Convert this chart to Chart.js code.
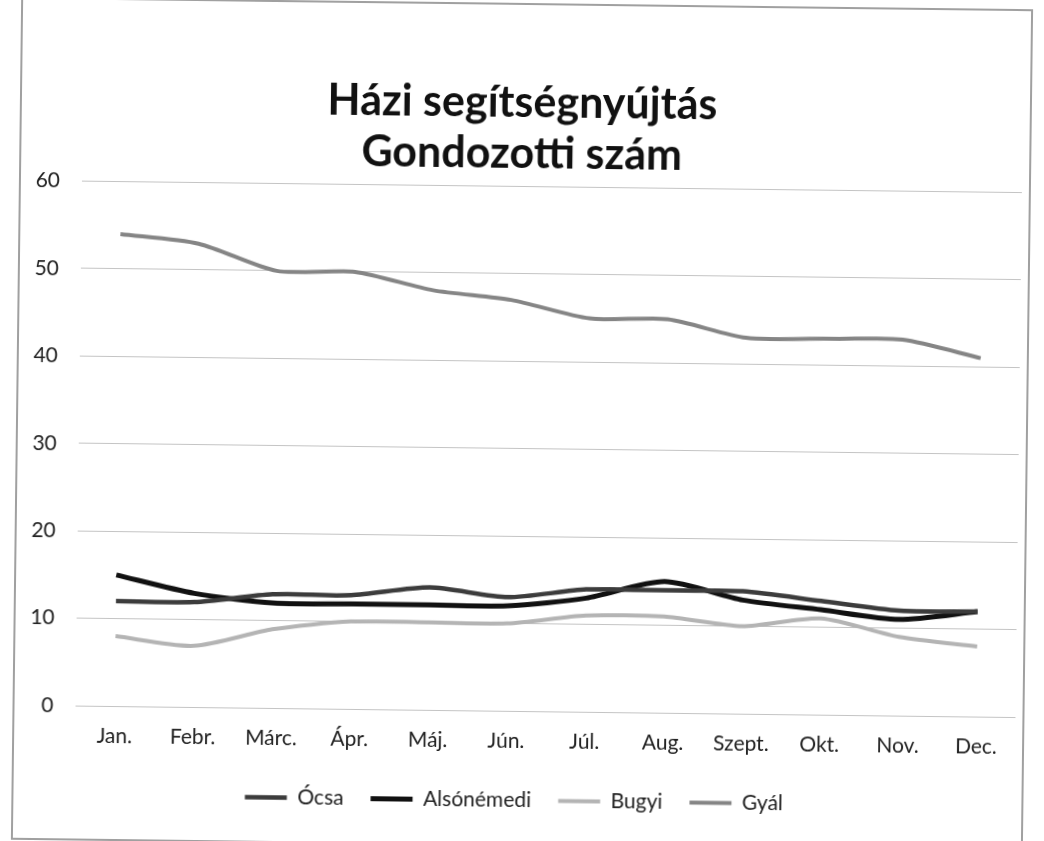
<!DOCTYPE html>
<html lang="hu">
<head>
<meta charset="utf-8">
<title>Házi segítségnyújtás – Gondozotti szám</title>
<script src="https://cdn.jsdelivr.net/npm/chart.js@4.4.1/dist/chart.umd.min.js"></script>
<style>
  html, body { margin: 0; padding: 0; background: #fff; }
  /* the scanned original is tilted a little, so the whole frame is too */
  #frame {
    position: absolute; left: 16px; top: 3px;
    width: 1012px; height: 843px;
    border: 2px solid #a0a0a0; box-sizing: border-box;
    transform: rotate(0.7deg);
  }
  canvas { display: block; }
</style>
</head>
<body>
<div id="frame"><canvas id="chart" width="1008" height="839"></canvas></div>
<script>
// ===== Data =====
const months = ["Jan.", "Febr.", "Márc.", "Ápr.", "Máj.", "Jún.", "Júl.", "Aug.", "Szept.", "Okt.", "Nov.", "Dec."];
const ocsa = [12, 12, 13, 13, 14, 13, 14, 14, 14, 13, 12, 12];
const alsonemedi = [15, 13, 12, 12, 12, 12, 13, 15, 13, 12, 11, 12];
const bugyi = [8, 7, 9, 10, 10, 10, 11, 11, 10, 11, 9, 8];
const gyal = [54, 53, 50, 50, 48, 47, 45, 45, 43, 43, 43, 41];
const yTicks = [0, 10, 20, 30, 40, 50, 60];

const FONT = "Lato, 'Open Sans', sans-serif";

const line = (label, data, color, width) => ({
  label,
  data,
  borderColor: color,
  backgroundColor: color,
  borderWidth: width,
  pointRadius: 0,
  pointHoverRadius: 0,
  tension: 0.25,
  fill: false,
});

new Chart(document.getElementById("chart"), {
  type: "line",
  data: {
    labels: months,
    datasets: [
      line("Ócsa", ocsa, "#3c3c3c", 4.5),
      line("Alsónémedi", alsonemedi, "#111111", 5),
      line("Bugyi", bugyi, "#b4b4b4", 4),
      line("Gyál", gyal, "#858585", 4),
    ],
  },
  options: {
    responsive: false,
    animation: false,
    layout: { padding: { left: 0, right: 7, top: 0, bottom: 23 } },
    plugins: {
      title: {
        display: true,
        text: ["Házi segítségnyújtás", "Gondozotti szám"],
        color: "#111",
        font: { family: FONT, size: 43, weight: "bold", lineHeight: 1.18 },
        padding: { top: 73, bottom: 7 },
      },
      legend: {
        position: "bottom",
        labels: {
          color: "#222",
          font: { family: FONT, size: 21 },
          usePointStyle: true,
          pointStyle: "line",
          pointStyleWidth: 42,
          padding: 27,
        },
      },
      tooltip: { enabled: false },
    },
    scales: {
      x: {
        offset: true,
        grid: { display: false },
        border: { display: false },
        ticks: {
          color: "#222",
          font: { family: FONT, size: 21 },
          padding: 10,
          maxRotation: 0,
          autoSkip: false,
        },
        afterFit: (s) => { s.height = 52; },
      },
      y: {
        min: 0,
        max: 60,
        afterBuildTicks: (s) => { s.ticks = yTicks.map((v) => ({ value: v })); },
        grid: { color: "#c4c4c4", lineWidth: 1, drawTicks: false },
        border: { display: false },
        ticks: {
          color: "#222",
          font: { family: FONT, size: 21 },
          padding: 22,
        },
        afterFit: (s) => { s.width = 61; },
      },
    },
  },
});
</script>
</body>
</html>
